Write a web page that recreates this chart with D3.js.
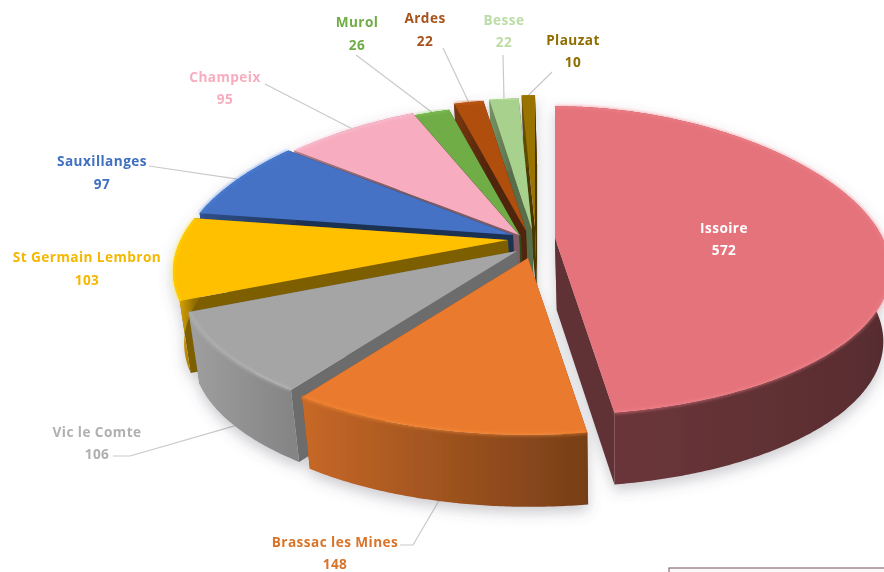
<!DOCTYPE html>
<html>
<head>
<meta charset="utf-8">
<script src="https://cdn.jsdelivr.net/npm/d3@7"></script>
<style>
  html, body { margin: 0; padding: 0; background: #fff; overflow: hidden; }
  text { font-family: "Open Sans", sans-serif; font-weight: 700; font-size: 13.6px; letter-spacing: 0.45px; text-anchor: middle; }
</style>
</head>
<body>
<svg id="chart" width="884" height="572"></svg>
<script>
  // --- Data ---
  const names = ['Issoire', 'Brassac les Mines', 'Vic le Comte', 'St Germain Lembron', 'Sauxillanges',
    'Champeix', 'Murol', 'Ardes', 'Besse', 'Plauzat'];
  const values = [572, 148, 106, 103, 97, 95, 26, 22, 22, 10];

  // --- Look ---
  const topColors = ['#e4737b', '#ea7a2e', '#a5a5a5', '#ffc000', '#4472c4', '#f7adbf', '#70ad47', '#b0500f', '#a9d18e', '#997300'];
  const labelColors = ['#ffffff', '#d9742a', '#b0b0b0', '#f5b800', '#3f6fc0', '#f7adbf', '#70ad47', '#a8521a', '#bcdca6', '#8f6d00'];
  const wallDarkLeft = [2.0, 0.45, 0.1, 0.1, 1, 1, 1, 1, 1, 1];
  const wallDarkRight = [2.7, 1.9, 0.6, 1.6, 2, 2, 2, 2, 2, 2];
  const sideDark = [2.4, 1.6, 1.2, 2.0, 2.4, 1.8, 2.4, 2.2, 1.8, 2.0];

  // explosion of each slice away from the pie centre, px
  const explodeX = [30, 3, -8, -17, -12, -6, -4, 1, 7, 10];
  const explodeY = [-2, 18, 11, 0, -5, -5, -3, -9, -10, -13];

  // label anchors: centre x, first baseline, second baseline
  const labelX = [724, 335, 97, 87, 102, 225, 357, 425, 504, 573];
  const labelY1 = [233, 547, 437, 262, 166, 82, 27, 23, 25, 45];
  const labelY2 = [255, 569, 459, 285, 189, 104, 50, 46, 47, 67];
  // leader start points (null = no leader)
  const leaderFrom = [null, [[400, 545], [413, 545]], [[113, 456], [130, 456]], null, [[149, 166]], [[265, 84]], [[356, 55]], [[443, 48]], [[503, 55]], [[552, 72]]];

  const cx = 525, cy = 240, depth = 72;
  const persp = 0.146, flat = 151;
  const vanishX = 620, lowShrink = 0.975;

  const svg = d3.select('#chart');
  const defs = svg.append('defs');

  const soft = defs.append('filter').attr('id', 'soft').attr('x', '-10%').attr('y', '-10%').attr('width', '120%').attr('height', '130%');
  soft.append('feDropShadow').attr('dx', 0).attr('dy', 6).attr('stdDeviation', 7)
    .attr('flood-color', '#556').attr('flood-opacity', 0.3);
  defs.append('filter').attr('id', 'bevel').append('feGaussianBlur').attr('stdDeviation', 1.5);
  defs.append('filter').attr('id', 'photo').append('feGaussianBlur').attr('stdDeviation', 0.45);

  // horizontal stretch grows toward the viewer
  const stretch = d3.scaleLinear().domain([-1, 1]).range([255, 400]);
  const lower = p => [vanishX + (p[0] - vanishX) * lowShrink, p[1] + depth];
  const project = (a, i) => {
    const u = Math.sin(a), v = -Math.cos(a);
    return [
      cx + explodeX[i] + u * stretch(v),
      cy + explodeY[i] + flat * v / (1 - persp * v)
    ];
  };
  const apex = i => [cx + explodeX[i], cy + explodeY[i]];
  const line = d3.line();

  const slices = d3.pie().sort(null).value(d => d)(values);
  const order = d3.range(slices.length).sort((p, q) =>
    -Math.cos((slices[p].startAngle + slices[p].endAngle) / 2) + Math.cos((slices[q].startAngle + slices[q].endAngle) / 2));

  const root = svg.append('g').attr('filter', 'url(#photo)');

  // Faint box at the bottom right
  root.append('rect')
    .attr('x', 669).attr('y', 568).attr('width', 240).attr('height', 30)
    .attr('fill', '#fbf8f9').attr('stroke', '#8d6f76').attr('stroke-width', 1.2);

  const leaderLayer = root.append('g');
  const pie = root.append('g').attr('filter', 'url(#soft)');

  order.forEach(i => {
    const s = slices[i];
    const base = d3.color(topColors[i]);
    const rimAngles = d3.range(s.startAngle, s.endAngle, Math.PI / 360).concat([s.endAngle]);
    const rim = rimAngles.map(a => project(a, i));
    const rimLow = rim.map(lower);

    // Side cuts
    [s.startAngle, s.endAngle].forEach(a => {
      const p = project(a, i);
      pie.append('path')
        .attr('d', line([apex(i), p, lower(p), lower(apex(i))]) + 'Z')
        .attr('fill', base.darker(sideDark[i]));
    });

    // Outer wall
    const gradId = `wall-${i}`;
    const xs = d3.extent(rim, d => d[0]);
    const grad = defs.append('linearGradient').attr('id', gradId)
      .attr('gradientUnits', 'userSpaceOnUse')
      .attr('x1', xs[0]).attr('x2', xs[1]).attr('y1', 0).attr('y2', 0);
    grad.append('stop').attr('offset', '0%').attr('stop-color', base.darker(wallDarkLeft[i]));
    grad.append('stop').attr('offset', '100%').attr('stop-color', base.darker(wallDarkRight[i]));
    pie.append('path')
      .attr('d', line(rim.concat(rimLow.slice().reverse())) + 'Z')
      .attr('fill', `url(#${gradId})`);

    // Top face
    pie.append('path')
      .attr('d', line([apex(i)].concat(rim)) + 'Z')
      .attr('fill', base);

    // Light bevel along the rim
    pie.append('path')
      .attr('d', line(rim))
      .attr('fill', 'none')
      .attr('stroke', base.brighter(0.5))
      .attr('stroke-opacity', 0.55)
      .attr('stroke-width', 2.5)
      .attr('filter', 'url(#bevel)');
  });

  // Leaders
  slices.forEach((s, i) => {
    if (!leaderFrom[i]) return;
    const mid = (s.startAngle + s.endAngle) / 2;
    const p = project(mid, i);
    const end = -Math.cos(mid) > 0 ? lower(p) : p;
    leaderLayer.append('path')
      .attr('d', line(leaderFrom[i].concat([end])))
      .attr('fill', 'none')
      .attr('stroke', '#c9c9c9')
      .attr('stroke-width', 1.2);
  });

  // Labels
  const labels = root.append('g');
  names.forEach((name, i) => {
    labels.append('text').attr('x', labelX[i]).attr('y', labelY1[i]).attr('fill', labelColors[i]).text(name);
    labels.append('text').attr('x', labelX[i]).attr('y', labelY2[i]).attr('fill', labelColors[i]).text(values[i]);
  });
</script>
</body>
</html>
